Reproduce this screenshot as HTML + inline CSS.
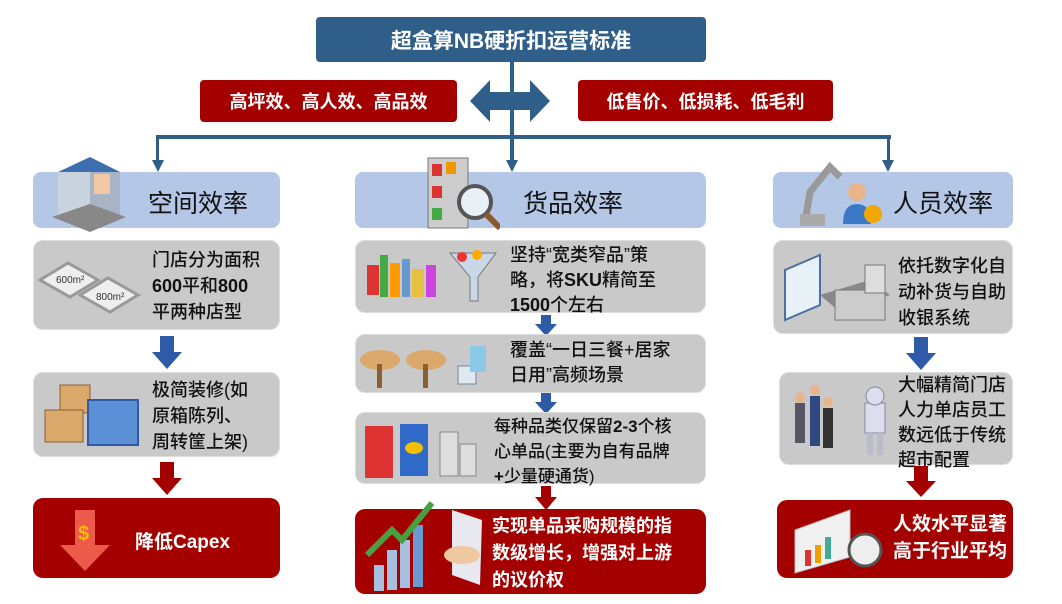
<!DOCTYPE html>
<html><head><meta charset="utf-8"><style>
body{margin:0;width:1062px;height:604px;background:#fff;position:relative;overflow:hidden;font-family:"Liberation Sans","Noto Sans CJK SC",sans-serif}
.a{position:absolute;box-sizing:border-box}
.t{background:#2f5f88;color:#fff;font-weight:bold;font-size:21px;display:flex;align-items:center;justify-content:center;border-radius:4px}
.r{background:#a50000;color:#fff;font-weight:bold;font-size:18px;display:flex;align-items:center;justify-content:center;border-radius:4px}
.h{background:#b4c7e7;border-radius:8px;font-size:25px;color:#111}
.g{background:#c9c9c9;border-radius:10px;border:1px solid #ddd}
.rb{background:#a50000;border-radius:10px;color:#fff;font-weight:bold}
.tx{position:absolute;font-size:18px;line-height:26px;color:#111;font-weight:500}
.ln{background:#2f5f88;position:absolute}
</style></head><body>
<div class="a t" style="left:316px;top:17px;width:390px;height:45px">超盒算NB硬折扣运营标准</div>
<div class="a r" style="left:200px;top:80px;width:257px;height:42px">高坪效、高人效、高品效</div>
<div class="a r" style="left:578px;top:80px;width:255px;height:41px">低售价、低损耗、低毛利</div>
<svg class="a" style="left:0;top:0" width="1062" height="180">
<polygon points="470,101 490,80 490,92 530,92 530,80 550,101 530,122 530,110 490,110 490,122" fill="#2f5f88"/>
<rect x="510" y="62" width="4" height="100" fill="#2f5f88"/>
<rect x="156" y="135" width="735" height="4" fill="#2f5f88"/>
<rect x="156" y="135" width="3" height="28" fill="#2f5f88"/>
<rect x="887" y="135" width="3" height="28" fill="#2f5f88"/>
<polygon points="152,160 164,160 158,172" fill="#2f5f88"/>
<polygon points="506,160 518,160 512,172" fill="#2f5f88"/>
<polygon points="882,160 894,160 888,172" fill="#2f5f88"/>
</svg>
<div class="a h" style="left:33px;top:172px;width:247px;height:56px"><span style="position:absolute;left:115px;top:12px">空间效率</span></div>
<div class="a h" style="left:355px;top:172px;width:351px;height:56px"><span style="position:absolute;left:168px;top:12px">货品效率</span></div>
<div class="a h" style="left:773px;top:172px;width:240px;height:56px"><span style="position:absolute;left:120px;top:12px">人员效率</span></div>
<!-- header icons -->
<svg class="a" style="left:50px;top:152px" width="80" height="80"><polygon points="8,20 40,5 70,20 40,35" fill="#3d6fb0"/><rect x="8" y="20" width="32" height="45" fill="#c9d3e0"/><rect x="40" y="20" width="30" height="45" fill="#a8b4c4"/><rect x="44" y="22" width="16" height="20" fill="#f0c8a8"/><polygon points="2,65 40,80 76,65 40,52" fill="#888"/></svg>
<svg class="a" style="left:420px;top:152px" width="80" height="80"><rect x="8" y="6" width="40" height="70" fill="#ccc" stroke="#777"/><rect x="12" y="12" width="10" height="12" fill="#d33"/><rect x="26" y="10" width="10" height="12" fill="#e90"/><rect x="12" y="34" width="10" height="12" fill="#d33"/><rect x="12" y="56" width="10" height="12" fill="#4a4"/><circle cx="55" cy="50" r="16" fill="#e8f0f8" stroke="#555" stroke-width="4"/><line x1="66" y1="62" x2="80" y2="76" stroke="#8b5a2b" stroke-width="6"/></svg>
<svg class="a" style="left:795px;top:152px" width="90" height="78"><path d="M10,70 L15,40 L35,15 L45,25" stroke="#999" stroke-width="7" fill="none"/><rect x="5" y="62" width="25" height="12" fill="#aaa"/><circle cx="62" cy="40" r="9" fill="#e8b58a"/><path d="M48,72 Q48,52 62,52 Q76,52 76,72Z" fill="#3c78c8"/><circle cx="78" cy="62" r="9" fill="#f0a800"/></svg>
<!-- left column -->
<div class="a g" style="left:33px;top:240px;width:247px;height:90px"></div>
<svg class="a" style="left:38px;top:255px" width="110" height="60"><polygon points="2,25 30,8 60,25 32,42" fill="#eee" stroke="#999" stroke-width="3"/><polygon points="42,40 70,23 100,40 72,57" fill="#eee" stroke="#999" stroke-width="3"/><text x="18" y="28" font-size="10" fill="#333">600m²</text><text x="58" y="45" font-size="10" fill="#333">800m²</text></svg>
<div class="tx" style="left:152px;top:247px">门店分为面积<br><b>600</b>平和<b>800</b><br>平两种店型</div>
<svg class="a" style="left:150px;top:336px" width="34" height="34"><rect x="10" y="0" width="14" height="18" fill="#2f5aa8"/><polygon points="2,16 32,16 17,33" fill="#2f5aa8"/></svg>
<div class="a g" style="left:33px;top:372px;width:247px;height:85px"></div>
<svg class="a" style="left:40px;top:380px" width="110" height="72"><rect x="20" y="5" width="30" height="28" fill="#d9a86a" stroke="#8a6030"/><rect x="5" y="30" width="38" height="32" fill="#d9a86a" stroke="#8a6030"/><rect x="48" y="20" width="50" height="45" fill="#5b8fd6" stroke="#2f5aa8" stroke-width="2"/></svg>
<div class="tx" style="left:152px;top:377px">极简装修(如<br>原箱陈列、<br>周转筐上架)</div>
<svg class="a" style="left:150px;top:462px" width="34" height="34"><rect x="10" y="0" width="14" height="18" fill="#a50000"/><polygon points="2,16 32,16 17,33" fill="#a50000"/></svg>
<div class="a rb" style="left:33px;top:498px;width:247px;height:80px"></div>
<svg class="a" style="left:60px;top:505px" width="60" height="68"><polygon points="15,5 35,5 35,40 50,40 25,66 0,40 15,40" fill="#ec5a4a"/><text x="18" y="35" font-size="20" fill="#f0c000" font-weight="bold">$</text></svg>
<div class="a" style="left:135px;top:527px;font-size:19px;font-weight:bold;color:#fff">降低Capex</div>
<!-- middle -->
<div class="a g" style="left:355px;top:240px;width:351px;height:73px"></div>
<svg class="a" style="left:362px;top:245px" width="140" height="62"><rect x="5" y="20" width="12" height="30" fill="#d33"/><rect x="18" y="10" width="8" height="42" fill="#4a4"/><rect x="28" y="18" width="10" height="34" fill="#f90"/><rect x="40" y="14" width="8" height="38" fill="#69c"/><rect x="50" y="24" width="12" height="28" fill="#e8c040"/><rect x="64" y="20" width="10" height="32" fill="#c4d"/><polygon points="88,8 134,8 116,32 116,56 108,56 108,32" fill="#c8d8e8" stroke="#777"/><circle cx="100" cy="12" r="5" fill="#e33"/><circle cx="115" cy="10" r="5" fill="#fa0"/></svg>
<div class="tx" style="left:510px;top:243px;line-height:25px">坚持“宽类窄品”策<br>略，将<b>SKU</b>精简至<br><b>1500</b>个左右</div>
<svg class="a" style="left:533px;top:315px" width="26" height="21"><rect x="8" y="0" width="10" height="10" fill="#2f5aa8"/><polygon points="2,9 24,9 13,21" fill="#2f5aa8"/></svg>
<div class="a g" style="left:355px;top:334px;width:351px;height:59px"></div>
<svg class="a" style="left:358px;top:336px" width="140" height="56"><ellipse cx="22" cy="24" rx="20" ry="10" fill="#d9a86a"/><rect x="19" y="28" width="5" height="24" fill="#8a6030"/><ellipse cx="68" cy="24" rx="20" ry="10" fill="#d9a86a"/><rect x="65" y="28" width="5" height="24" fill="#8a6030"/><rect x="100" y="30" width="18" height="18" fill="#dde8f0" stroke="#789"/><rect x="112" y="10" width="16" height="26" fill="#8cc8e8"/></svg>
<div class="tx" style="left:510px;top:338px;line-height:25px">覆盖“一日三餐+居家<br>日用”高频场景</div>
<svg class="a" style="left:533px;top:393px" width="26" height="21"><rect x="8" y="0" width="10" height="10" fill="#2f5aa8"/><polygon points="2,9 24,9 13,21" fill="#2f5aa8"/></svg>
<div class="a g" style="left:355px;top:412px;width:351px;height:72px"></div>
<svg class="a" style="left:360px;top:418px" width="135" height="62"><rect x="5" y="8" width="28" height="52" fill="#d33"/><rect x="40" y="6" width="28" height="52" fill="#2f6ac8"/><ellipse cx="54" cy="30" rx="9" ry="6" fill="#f0c000"/><rect x="80" y="14" width="18" height="44" fill="#ddd" stroke="#888"/><rect x="100" y="26" width="16" height="32" fill="#ddd" stroke="#888"/></svg>
<div class="tx" style="left:494px;top:414px;font-size:17px;line-height:25px">每种品类仅保留<b>2-3</b>个核<br>心单品(主要为自有品牌<br><b>+</b>少量硬通货)</div>
<svg class="a" style="left:533px;top:486px" width="26" height="24"><rect x="8" y="0" width="10" height="12" fill="#a50000"/><polygon points="2,11 24,11 13,24" fill="#a50000"/></svg>
<div class="a rb" style="left:355px;top:509px;width:351px;height:85px"></div>
<svg class="a" style="left:362px;top:495px" width="130" height="100"><rect x="12" y="70" width="10" height="26" fill="#a8c0e0"/><rect x="25" y="55" width="10" height="40" fill="#a8c0e0"/><rect x="38" y="45" width="10" height="48" fill="#a8c0e0"/><rect x="51" y="30" width="10" height="62" fill="#6a9ad0"/><polyline points="5,60 30,35 40,45 70,8" stroke="#4aa040" stroke-width="6" fill="none"/><polygon points="90,15 120,25 118,90 90,80" fill="#e8e8f0"/><ellipse cx="100" cy="60" rx="18" ry="9" fill="#f0c8a0"/></svg>
<div class="a" style="left:492px;top:513px;font-size:18px;line-height:27px;font-weight:bold;color:#fff">实现单品采购规模的指<br>数级增长，增强对上游<br>的议价权</div>
<!-- right -->
<div class="a g" style="left:773px;top:240px;width:240px;height:94px"></div>
<svg class="a" style="left:780px;top:250px" width="115" height="78"><polygon points="5,20 40,5 40,55 5,70" fill="#e8f0f8" stroke="#4a6fa0" stroke-width="2"/><polygon points="40,45 90,30 110,45 60,62" fill="#888"/><rect x="55" y="40" width="50" height="30" fill="#ccc" stroke="#777"/><rect x="85" y="15" width="20" height="28" fill="#ddd" stroke="#777"/></svg>
<div class="tx" style="left:898px;top:253px">依托数字化自<br>动补货与自助<br>收银系统</div>
<svg class="a" style="left:904px;top:337px" width="34" height="34"><rect x="10" y="0" width="14" height="18" fill="#2f5aa8"/><polygon points="2,16 32,16 17,33" fill="#2f5aa8"/></svg>
<div class="a g" style="left:779px;top:372px;width:234px;height:93px"></div>
<svg class="a" style="left:785px;top:378px" width="115" height="85"><rect x="10" y="25" width="10" height="40" fill="#556"/><rect x="25" y="18" width="10" height="50" fill="#2f4a80"/><rect x="38" y="30" width="10" height="40" fill="#333"/><circle cx="15" cy="20" r="5" fill="#e8b58a"/><circle cx="30" cy="12" r="5" fill="#e8b58a"/><circle cx="43" cy="24" r="5" fill="#e8b58a"/><rect x="80" y="25" width="20" height="30" fill="#dde" stroke="#889"/><circle cx="90" cy="18" r="9" fill="#dde" stroke="#889"/><rect x="82" y="55" width="6" height="22" fill="#bbc"/><rect x="92" y="55" width="6" height="22" fill="#bbc"/></svg>
<div class="tx" style="left:898px;top:373px;line-height:25px">大幅精简门店<br>人力单店员工<br>数远低于传统<br>超市配置</div>
<svg class="a" style="left:904px;top:466px" width="34" height="32"><rect x="10" y="0" width="14" height="16" fill="#a50000"/><polygon points="2,15 32,15 17,31" fill="#a50000"/></svg>
<div class="a rb" style="left:777px;top:500px;width:236px;height:78px"></div>
<svg class="a" style="left:790px;top:505px" width="100" height="70"><polygon points="5,25 60,5 60,52 5,68" fill="#f0f0f0" stroke="#bbb"/><rect x="15" y="45" width="6" height="16" fill="#d33"/><rect x="25" y="40" width="6" height="18" fill="#f0a000"/><rect x="35" y="32" width="6" height="22" fill="#4a9"/><circle cx="75" cy="45" r="16" fill="#eee" stroke="#555" stroke-width="3"/></svg>
<div class="a" style="left:893px;top:511px;font-size:19px;line-height:27px;font-weight:bold;color:#fff">人效水平显著<br>高于行业平均</div>
</body></html>
